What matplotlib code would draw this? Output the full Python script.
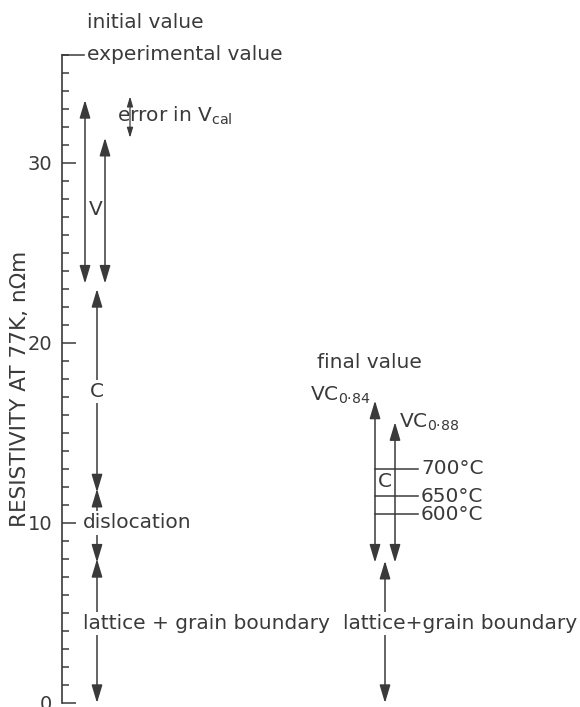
import matplotlib
matplotlib.use('Agg')
import matplotlib.pyplot as plt
from matplotlib.ticker import MultipleLocator

plt.rcParams["font.family"] = "DejaVu Sans"
plt.rcParams.update({'font.size': 14.5})
plt.rcParams["mathtext.default"] = "regular"

# resistivity values at 77K (nOhm m)
experimental_value = 36.0
v_arrow_tops = [33.5, 31.4]        # initial value, two V estimates
v_arrow_bottom = 23.3
err_vcal = [33.7, 31.4]
c_initial = [23.0, 11.7]
dislocation = [11.9, 7.8]
lattice_initial = [8.0, 0.0]

vc_labels = ['VC$_{0·84}$', 'VC$_{0·88}$']
vc_tops = [16.8, 15.6]
vc_bottom = 7.8
lattice_final = [7.9, 0.0]
anneal_temps = ['700°C', '650°C', '600°C']
anneal_levels = [13.0, 11.5, 10.5]

ink = '#3a3a3a'

fig = plt.figure(figsize=(5.8, 7.07), dpi=100)
ax = fig.add_axes([62 / 580, 4 / 707, 518 / 580, 648 / 707])
ax.set_xlim(62, 580)
ax.set_ylim(0, 36)


def darrow(x, y0, y1, ms=11, lw=1.1):
    ax.annotate('', xy=(x, y1), xytext=(x, y0),
                arrowprops=dict(arrowstyle='<|-|>,head_length=1.0,head_width=0.3',
                                mutation_scale=ms, lw=lw, color=ink,
                                shrinkA=0, shrinkB=0),
                annotation_clip=False, zorder=2)


def label(x, y, s, ha='left', box=False, **kw):
    bb = dict(facecolor='white', edgecolor='none', pad=1.5) if box else None
    ax.text(x, y, s, ha=ha, va='center', color=ink, bbox=bb, zorder=5,
            clip_on=False, **kw)


# left column: initial value
for x, top in zip([85, 105], v_arrow_tops):
    darrow(x, v_arrow_bottom, top)
darrow(130, err_vcal[1], err_vcal[0], ms=6, lw=0.9)
darrow(97, c_initial[1], c_initial[0])
darrow(97, dislocation[1], dislocation[0])
darrow(97, lattice_initial[1], lattice_initial[0])

ax.plot([62, 84], [experimental_value] * 2, color=ink, lw=1.1, clip_on=False)
label(87, 37.8, 'initial value')
label(87, experimental_value, 'experimental value')
label(96, 27.4, 'V', ha='center')
label(117, 32.6, 'error in V$_{cal}$')
label(97, 17.3, 'C', ha='center', box=True)
label(83, 10.0, 'dislocation', box=True)
label(83, 4.4, 'lattice + grain boundary', box=True)

# right column: final value
for x, top in zip([375, 395], vc_tops):
    darrow(x, vc_bottom, top)
darrow(385, lattice_final[1], lattice_final[0])
for lvl, t in zip(anneal_levels, anneal_temps):
    ax.plot([375, 418], [lvl, lvl], color=ink, lw=1.1, zorder=2)
    label(421, lvl, t)

label(317, 18.9, 'final value')
label(371, 17.1, vc_labels[0], ha='right')
label(399, 15.6, vc_labels[1])
label(385, 12.3, 'C', ha='center')
label(343, 4.4, 'lattice+grain boundary', box=True)

# axis
for s in ['top', 'right', 'bottom']:
    ax.spines[s].set_visible(False)
ax.spines['left'].set_bounds(0, experimental_value)
ax.spines['left'].set_color(ink)
ax.spines['left'].set_linewidth(1.2)
ax.xaxis.set_visible(False)
ax.yaxis.set_major_locator(MultipleLocator(10))
ax.yaxis.set_minor_locator(MultipleLocator(1))
ax.tick_params(axis='y', which='major', direction='in', length=10, width=1.1,
               color=ink, labelcolor=ink, pad=7, labelsize=14)
ax.tick_params(axis='y', which='minor', direction='in', length=5, width=1.1, color=ink)
ax.set_yticks([0, 10, 20, 30])
ax.set_ylabel('RESISTIVITY AT 77K, nΩm', color=ink, fontsize=15.5)
ax.yaxis.set_label_coords(-0.062, 0.485)
ax.patch.set_alpha(0)

plt.savefig('out.png', dpi=100)
